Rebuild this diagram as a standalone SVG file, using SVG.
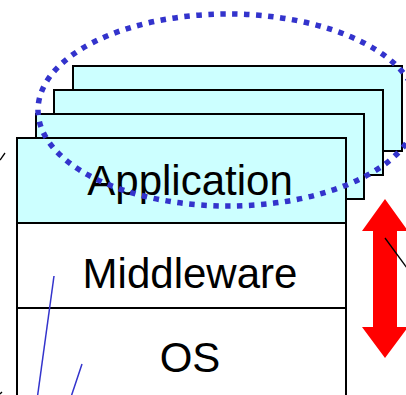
<svg xmlns="http://www.w3.org/2000/svg" width="406" height="395" viewBox="0 0 406 395">
  <style>
    .app { fill: #CCFFFF; stroke: #000; stroke-width: 2; }
    .layer { fill: #FFFFFF; stroke: #000; stroke-width: 2; }
    .label { font-family: "Liberation Sans", Arial, sans-serif; font-size: 42px; fill: #000; text-anchor: middle; }
    .thin-blue { stroke: #3333CC; stroke-width: 1.5; fill: none; }
    .thin-black { stroke: #000; stroke-width: 1.3; fill: none; }
  </style>
  <rect width="406" height="395" fill="#FFFFFF"/>
  <g id="app-stack">
    <rect class="app" x="73" y="66" width="329" height="85"/>
    <rect class="app" x="54" y="90" width="329" height="85"/>
    <rect class="app" x="36" y="114" width="328" height="85"/>
  </g>
  <g id="application">
    <rect class="app" x="17" y="138" width="329" height="85"/>
    <text class="label" x="190" y="195">Application</text>
  </g>
  <g id="middleware">
    <rect class="layer" x="17" y="223" width="329" height="85"/>
    <text class="label" x="190" y="288">Middleware</text>
  </g>
  <g id="os">
    <rect class="layer" x="17" y="308" width="329" height="100"/>
    <text class="label" x="190" y="372">OS</text>
  </g>
  <g id="selection">
    <ellipse cx="228" cy="110" rx="190" ry="96" fill="none" stroke="#3333CC" stroke-width="5.5" stroke-dasharray="5.5 6.5"/>
  </g>
  <g id="double-arrow">
    <polygon fill="#FF0000" points="385,199 408,231 397,231 397,327 408,327 385,358 362,327 373,327 373,231 362,231"/>
  </g>
  <g id="connectors">
    <line class="thin-black" x1="385" y1="238" x2="410" y2="272"/>
    <line class="thin-blue" x1="54" y1="276" x2="37" y2="400"/>
    <line class="thin-blue" x1="82" y1="364" x2="70" y2="400"/>
    <line class="thin-black" x1="5" y1="153" x2="0" y2="160"/>
    <line class="thin-black" x1="2" y1="392" x2="0" y2="394"/>
  </g>
</svg>
